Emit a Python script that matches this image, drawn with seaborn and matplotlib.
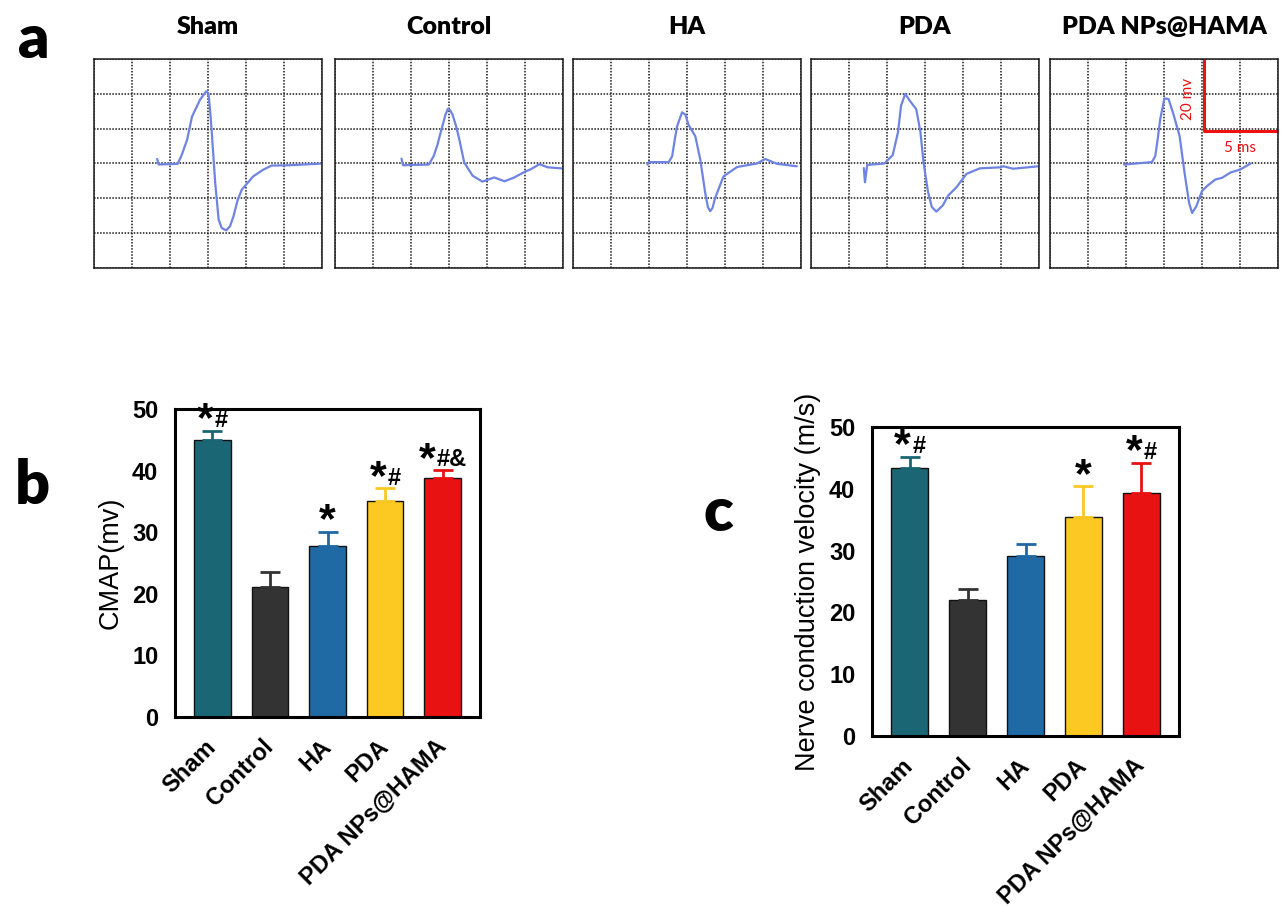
import numpy as np
import pandas as pd
import seaborn as sns
import matplotlib.pyplot as plt
from matplotlib.offsetbox import TextArea, HPacker, AnnotationBbox

# ---- data ----
groups = ["Sham", "Control", "HA", "PDA", "PDA NPs@HAMA"]
bar_colors = ["#1b6675", "#333333", "#1f69a5", "#fcc822", "#e81212"]

cmap_mean = [44.9, 21.1, 27.7, 35.0, 38.8]
cmap_err = [1.6, 2.4, 2.4, 2.1, 1.3]
cmap_marks = [("*", "#"), ("", ""), ("*", ""), ("*", "#"), ("*", "#&")]

ncv_mean = [43.4, 22.0, 29.1, 35.5, 39.4]
ncv_err = [1.8, 1.8, 2.0, 4.9, 4.8]
ncv_marks = [("*", "#"), ("", ""), ("", ""), ("*", ""), ("*", "#")]

# waveforms in grid divisions (x: time, y: amplitude, baseline at 3)
sham_t = [1.66, 1.70, 2.20, 2.27, 2.31, 2.45, 2.58, 2.70, 2.79, 2.95, 3.01, 3.05, 3.10, 3.19, 3.28, 3.36, 3.48, 3.58, 3.67, 3.78, 3.89, 4.19, 4.45, 4.67, 5.15, 6.02]
sham_v = [3.13, 2.97, 2.99, 3.15, 3.25, 3.68, 4.35, 4.62, 4.83, 5.07, 5.02, 4.60, 3.88, 2.44, 1.39, 1.15, 1.08, 1.20, 1.48, 1.95, 2.25, 2.63, 2.82, 2.94, 2.95, 3.00]

control_t = [1.75, 1.79, 2.47, 2.60, 2.70, 2.78, 2.91, 2.97, 3.03, 3.09, 3.18, 3.27, 3.40, 3.62, 3.88, 4.19, 4.46, 4.72, 4.99, 5.16, 5.38, 5.60, 5.96]
control_v = [3.14, 2.95, 2.97, 3.22, 3.55, 3.89, 4.41, 4.57, 4.53, 4.41, 4.10, 3.70, 3.03, 2.65, 2.48, 2.60, 2.49, 2.60, 2.76, 2.84, 2.98, 2.89, 2.86]

ha_t = [1.96, 2.00, 2.52, 2.61, 2.68, 2.74, 2.87, 2.96, 3.04, 3.22, 3.35, 3.48, 3.55, 3.61, 3.67, 3.74, 3.96, 4.32, 4.84, 5.06, 5.37, 5.89]
ha_v = [2.97, 3.04, 3.04, 3.21, 3.70, 4.07, 4.47, 4.40, 4.11, 3.78, 3.11, 2.15, 1.75, 1.63, 1.72, 2.01, 2.63, 2.90, 3.00, 3.13, 2.99, 2.92]

pda_t = [1.39, 1.42, 1.48, 1.93, 2.15, 2.29, 2.37, 2.48, 2.60, 2.77, 2.88, 2.96, 3.08, 3.18, 3.30, 3.47, 3.61, 3.83, 4.09, 4.44, 4.97, 5.06, 5.32, 5.98]
pda_v = [2.87, 2.46, 2.96, 3.00, 3.24, 3.90, 4.66, 5.00, 4.80, 4.56, 3.90, 3.04, 2.18, 1.75, 1.62, 1.80, 2.08, 2.32, 2.70, 2.86, 2.89, 2.92, 2.85, 2.92]

nps_t = [1.95, 2.68, 2.77, 2.84, 2.90, 3.01, 3.12, 3.25, 3.41, 3.54, 3.66, 3.74, 3.85, 4.00, 4.13, 4.35, 4.53, 4.75, 5.01, 5.28]
nps_v = [2.97, 3.04, 3.21, 3.75, 4.27, 4.87, 4.85, 4.41, 3.79, 2.74, 1.87, 1.58, 1.77, 2.21, 2.35, 2.54, 2.59, 2.74, 2.83, 3.00]

waves = [(sham_t, sham_v), (control_t, control_v), (ha_t, ha_v), (pda_t, pda_v), (nps_t, nps_v)]

# scale bar (grid divisions) on the last trace
scale_x0, scale_y0 = 4.04, 3.93
scale_labels = ["20 mv", "5 ms"]

sns.set_style("white")
plt.rcParams["font.family"] = ["Liberation Sans", "DejaVu Sans"]
plt.rcParams["text.color"] = "black"
plt.rcParams["axes.labelcolor"] = "black"
plt.rcParams["xtick.color"] = "black"
plt.rcParams["ytick.color"] = "black"
plt.rcParams["lines.solid_joinstyle"] = "round"

W, H = 1281, 907
fig = plt.figure(figsize=(W / 100, H / 100), dpi=100)

def px_axes(left, top, right, bottom):
    return fig.add_axes([left / W, 1 - bottom / H, (right - left) / W, (bottom - top) / H])

# ---- panel a: traces ----
grid_left = [94, 335, 573, 811, 1050]
for k, (t, v) in enumerate(waves):
    ax = px_axes(grid_left[k], 59, grid_left[k] + 228, 268)
    sns.lineplot(x=t, y=v, sort=False, color="#6f84e2", lw=1.6, ax=ax)
    ax.set_xlim(0, 6)
    ax.set_ylim(0, 6)
    ax.set_xticks(range(7))
    ax.set_yticks(range(7))
    ax.set_xticklabels([])
    ax.set_yticklabels([])
    ax.tick_params(length=0)
    ax.grid(True, color="#1a1a1a", ls=(0, (1, 1)), lw=1.1)
    for s in ax.spines.values():
        s.set_linestyle((0, (1, 1)))
        s.set_linewidth(1.1)
        s.set_color("#1a1a1a")
    fig.text((grid_left[k] + 114) / W, 1 - 27 / H, groups[k], ha="center", va="center",
             fontsize=18, fontweight="heavy", family="Lato")
    if k == 4:
        ax.plot([scale_x0, scale_x0, 6], [6, scale_y0, scale_y0], color="#ee1111", lw=2.2,
                solid_capstyle="butt", clip_on=False)
        ax.text(3.62, 4.85, scale_labels[0], rotation=90, ha="center", va="center",
                color="#ee1111", fontsize=11, family="Lato")
        ax.text(5.0, 3.45, scale_labels[1], ha="center", va="center",
                color="#ee1111", fontsize=11, family="Lato")


def bar_panel(ax, means, errs, marks, ylabel):
    sns.barplot(x=groups, y=means, hue=groups, palette=bar_colors, legend=False, saturation=1,
                width=0.64, edgecolor="#111111", linewidth=1.0, ax=ax)
    for i in range(len(groups)):
        ax.errorbar(i, means[i], yerr=[[0], [errs[i]]], fmt="none", ecolor=bar_colors[i],
                    elinewidth=2.0, capsize=7.5, capthick=2.0, zorder=1)
    for i, (star, rest) in enumerate(marks):
        if not star:
            continue
        parts = [TextArea(star, textprops=dict(fontsize=31, fontweight="bold", color="black"))]
        if rest:
            parts.append(TextArea(rest, textprops=dict(fontsize=17, fontweight="bold", color="black")))
        box = HPacker(children=parts, align="center", pad=0, sep=1)
        ab = AnnotationBbox(box, (i, means[i] + errs[i]), xybox=(0, -7), boxcoords="offset points",
                            box_alignment=(0.5, 0), frameon=False, annotation_clip=False)
        ax.add_artist(ab)
    ax.set_xlim(-0.65, 4.65)
    ax.set_ylim(0, 50)
    ax.set_yticks(range(0, 51, 10))
    ax.set_xticks(range(len(groups)))
    ax.set_xticklabels(groups, rotation=45, ha="right", va="center", rotation_mode="anchor",
                       fontsize=17, fontweight="bold")
    for lab in ax.get_yticklabels():
        lab.set_fontsize(17)
        lab.set_fontweight("bold")
    ax.set_ylabel(ylabel, fontsize=19.5, labelpad=6)
    ax.tick_params(axis="y", direction="out", length=9, width=2.2, pad=3)
    ax.tick_params(axis="x", direction="out", length=9, width=2.2, pad=10)
    for s in ax.spines.values():
        s.set_visible(True)
        s.set_linewidth(2.2)
        s.set_color("black")


ax_b = px_axes(175, 409, 480, 717)
bar_panel(ax_b, cmap_mean, cmap_err, cmap_marks, "CMAP(mv)")

ax_c = px_axes(872, 427, 1179, 736)
bar_panel(ax_c, ncv_mean, ncv_err, ncv_marks, "Nerve conduction velocity (m/s)")

for letter, x, y in [("a", 34, 40), ("b", 32, 486), ("c", 718, 513)]:
    fig.text(x / W, 1 - y / H, letter, ha="center", va="center", fontsize=44,
             fontweight="heavy", family="Lato")

fig.savefig("out.png", dpi=100)
